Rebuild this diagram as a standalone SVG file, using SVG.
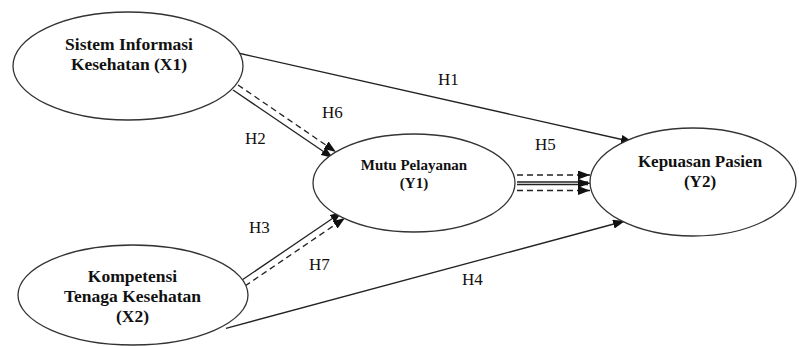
<svg xmlns="http://www.w3.org/2000/svg" width="799" height="346" viewBox="0 0 799 346">
<style>
.node ellipse{fill:#fff;stroke:#333;stroke-width:1.3}
.nt{font-family:"Liberation Serif","Times New Roman",serif;font-weight:bold;fill:#111;text-anchor:middle}
.lbl{font-family:"Liberation Serif","Times New Roman",serif;font-size:17px;fill:#111}
.ln{stroke:#222;stroke-width:1.3;fill:none}
.dash{stroke-dasharray:6 4}
</style>
<defs>
<marker id="ah" markerUnits="userSpaceOnUse" markerWidth="12" markerHeight="9" refX="12" refY="4.5" orient="auto">
<path d="M0,0 L12,4.5 L0,9 z" fill="#111"/>
</marker>
</defs>
<g id="connectors">
<line class="ln" x1="238" y1="53" x2="633" y2="142" marker-end="url(#ah)"/>
<line class="ln" x1="233" y1="90" x2="333" y2="158" marker-end="url(#ah)"/>
<line class="ln dash" x1="238" y1="85" x2="336" y2="152" marker-end="url(#ah)"/>
<line class="ln" x1="242" y1="280" x2="342" y2="212" marker-end="url(#ah)"/>
<line class="ln dash" x1="245" y1="286" x2="345" y2="218" marker-end="url(#ah)"/>
<line class="ln dash" x1="517" y1="175" x2="590" y2="175" marker-end="url(#ah)"/>
<line class="ln" x1="517" y1="182" x2="588" y2="182"/>
<line class="ln" x1="517" y1="184.5" x2="588" y2="184.5"/>
<line class="ln" x1="580" y1="183.2" x2="590" y2="183.2" marker-end="url(#ah)"/>
<line class="ln dash" x1="517" y1="190.5" x2="590" y2="190.5" marker-end="url(#ah)"/>
<line class="ln" x1="226" y1="328.3" x2="625" y2="221" marker-end="url(#ah)"/>
<text class="lbl" x="438" y="85">H1</text>
<text class="lbl" x="245" y="144">H2</text>
<text class="lbl" x="322" y="118">H6</text>
<text class="lbl" x="535" y="150">H5</text>
<text class="lbl" x="249" y="233">H3</text>
<text class="lbl" x="309" y="270">H7</text>
<text class="lbl" x="462" y="285">H4</text>
</g>
<g id="X1" class="node">
<ellipse cx="128" cy="66" rx="115" ry="54"/>
<text class="nt" x="129" y="50" font-size="17.5">Sistem Informasi</text>
<text class="nt" x="129" y="70" font-size="17.5">Kesehatan (X1)</text>
</g>
<g id="X2" class="node">
<ellipse cx="133" cy="295" rx="115" ry="50"/>
<text class="nt" x="132.5" y="282" font-size="17.5">Kompetensi</text>
<text class="nt" x="132.5" y="302" font-size="17.5">Tenaga Kesehatan</text>
<text class="nt" x="132.5" y="322" font-size="17.5">(X2)</text>
</g>
<g id="Y1" class="node">
<ellipse cx="414" cy="183" rx="101" ry="49"/>
<text class="nt" x="414" y="170" font-size="15">Mutu Pelayanan</text>
<text class="nt" x="414" y="188" font-size="15">(Y1)</text>
</g>
<g id="Y2" class="node">
<ellipse cx="693" cy="182" rx="103" ry="54"/>
<text class="nt" x="700" y="167" font-size="17">Kepuasan Pasien</text>
<text class="nt" x="700" y="187" font-size="17">(Y2)</text>
</g>
</svg>
